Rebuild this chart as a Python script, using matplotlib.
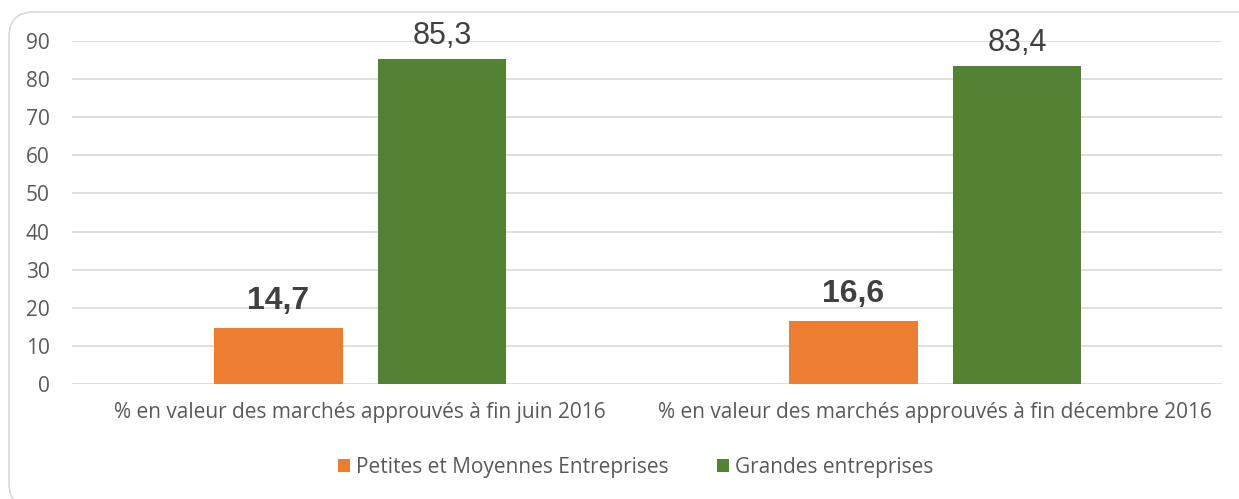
import matplotlib.pyplot as plt
from matplotlib.patches import FancyBboxPatch
import numpy as np

# Data
categories = ["% en valeur des marchés approuvés à fin juin 2016",
              "% en valeur des marchés approuvés à fin décembre 2016"]
pme = [14.7, 16.6]
grandes = [85.3, 83.4]
series_names = ["Petites et Moyennes Entreprises", "Grandes entreprises"]
yticks = [0, 10, 20, 30, 40, 50, 60, 70, 80, 90]

orange = "#ed7d31"
green = "#548235"
grey_txt = "#595959"

fig = plt.figure(figsize=(12.39, 4.99), dpi=100)
ax = fig.add_axes([0.0581, 0.2305, 0.9282, 0.6874])

x = np.arange(len(categories))
w = 0.224
b1 = ax.bar(x - 0.1415, pme, w, color=orange, label=series_names[0], zorder=3)
b2 = ax.bar(x + 0.1435, grandes, w, color=green, label=series_names[1], zorder=3)

# value labels
for rect, v in zip(b1, pme):
    ax.text(rect.get_x() + rect.get_width() / 2, v + 3.2, f"{v:.1f}".replace(".", ","),
            ha="center", va="bottom", fontsize=23, fontweight="bold",
            color="#404040", family="Liberation Sans", clip_on=False)
for rect, v in zip(b2, grandes):
    ax.text(rect.get_x() + rect.get_width() / 2, v + 2.0, f"{v:.1f}".replace(".", ","),
            ha="center", va="bottom", fontsize=22,
            color="#404040", family="Liberation Sans", clip_on=False)

ax.set_xlim(-0.5, 1.5)
ax.set_ylim(0, 90)
ax.set_yticks(yticks)
ax.set_yticklabels([str(t) for t in yticks], family="Open Sans", fontsize=15, color=grey_txt)
ax.set_xticks(x)
ax.set_xticklabels(categories, family="Open Sans", fontsize=15, color=grey_txt)
ax.tick_params(axis="y", length=0, pad=16)
ax.tick_params(axis="x", length=0, pad=13)
ax.grid(axis="y", color="#d9d9d9", linewidth=1.2, zorder=0)
for s in ax.spines.values():
    s.set_visible(False)

leg = fig.legend(loc="center", bbox_to_anchor=(0.513, 0.063), ncol=2, frameon=False,
                 prop={"family": "Open Sans", "size": 15}, handlelength=0.58,
                 handleheight=0.58, handletextpad=0.3, columnspacing=2.3)
for t in leg.get_texts():
    t.set_color(grey_txt)

# rounded chart border
border = FancyBboxPatch((9 / 1239, -0.018), 1.05, 1 - 12 / 499 + 0.018,
                        boxstyle="round,pad=0,rounding_size=0.02",
                        transform=fig.transFigure, fill=False,
                        edgecolor="#d9d9d9", linewidth=1.2, mutation_aspect=2.48)
fig.patches.append(border)

fig.savefig("out.png", dpi=100)
